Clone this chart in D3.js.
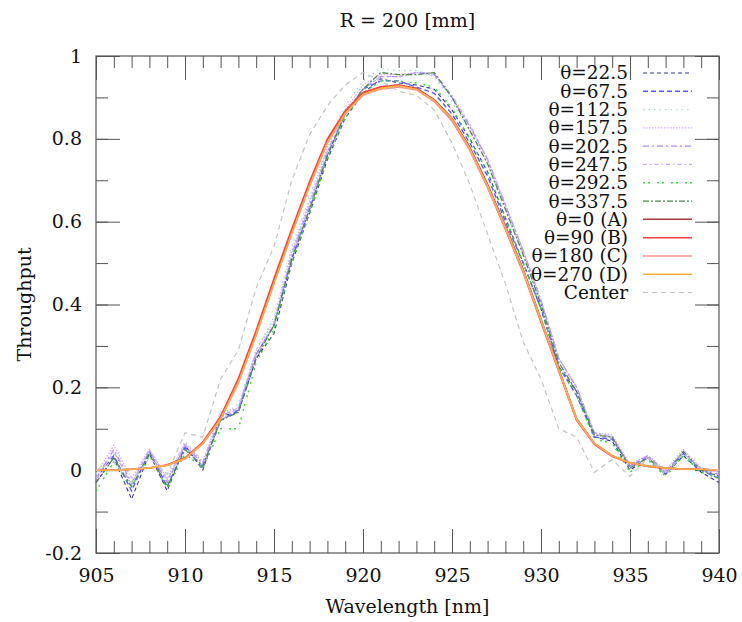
<!DOCTYPE html>
<html>
<head>
<meta charset="utf-8">
<script src="https://cdn.jsdelivr.net/npm/d3@7"></script>
<style>
  body { margin: 0; background: #fff; }
  text { font-family: "DejaVu Serif", serif; fill: #111; }
</style>
</head>
<body>
<svg width="742" height="622"></svg>
<script>
// wavelengths in nm
const wavelengths = [905, 906, 907, 908, 909, 910, 911, 912, 913, 914, 915, 916,
  917, 918, 919, 920, 921, 922, 923, 924, 925, 926, 927, 928,
  929, 930, 931, 932, 933, 934, 935, 936, 937, 938, 939, 940];

// throughput per position
const t22 = [-0.03, 0.03, -0.07, 0.04, -0.05, 0.06, 0.0, 0.13, 0.14, 0.27, 0.33, 0.50, 0.62, 0.75, 0.85, 0.91, 0.945, 0.935, 0.93, 0.92, 0.87, 0.80, 0.72, 0.61, 0.50, 0.39, 0.25, 0.19, 0.08, 0.07, 0.0, 0.03, -0.01, 0.035, -0.005, -0.03];
const t67 = [-0.02, 0.035, -0.05, 0.045, -0.04, 0.055, 0.005, 0.12, 0.145, 0.28, 0.35, 0.51, 0.63, 0.76, 0.86, 0.92, 0.94, 0.94, 0.925, 0.91, 0.86, 0.79, 0.71, 0.60, 0.50, 0.39, 0.25, 0.18, 0.08, 0.075, 0.01, 0.03, -0.01, 0.04, 0.0, -0.02];
const t112 = [-0.01, 0.04, -0.03, 0.05, -0.02, 0.07, 0.02, 0.13, 0.16, 0.29, 0.37, 0.54, 0.66, 0.79, 0.88, 0.94, 0.97, 0.965, 0.965, 0.95, 0.89, 0.82, 0.74, 0.63, 0.52, 0.40, 0.26, 0.19, 0.09, 0.08, 0.01, 0.035, -0.005, 0.045, 0.005, -0.01];
const t157 = [-0.01, 0.06, -0.02, 0.05, -0.02, 0.065, 0.02, 0.14, 0.15, 0.29, 0.36, 0.53, 0.65, 0.78, 0.87, 0.93, 0.955, 0.955, 0.96, 0.955, 0.90, 0.83, 0.75, 0.64, 0.53, 0.41, 0.27, 0.20, 0.09, 0.085, 0.015, 0.035, 0.0, 0.05, 0.005, -0.005];
const t202 = [-0.02, 0.05, -0.03, 0.045, -0.03, 0.06, 0.015, 0.13, 0.15, 0.28, 0.35, 0.52, 0.64, 0.77, 0.86, 0.92, 0.95, 0.95, 0.96, 0.955, 0.90, 0.83, 0.75, 0.64, 0.53, 0.41, 0.27, 0.20, 0.09, 0.08, 0.01, 0.035, -0.005, 0.045, 0.0, -0.01];
const t247 = [-0.02, 0.045, -0.035, 0.05, -0.025, 0.06, 0.01, 0.12, 0.15, 0.28, 0.35, 0.52, 0.64, 0.77, 0.86, 0.92, 0.95, 0.95, 0.96, 0.96, 0.905, 0.835, 0.75, 0.64, 0.53, 0.41, 0.27, 0.20, 0.085, 0.08, 0.005, 0.03, -0.005, 0.04, 0.0, -0.015];
const t292 = [-0.05, 0.02, -0.04, 0.035, -0.045, 0.04, 0.005, 0.10, 0.10, 0.26, 0.34, 0.50, 0.62, 0.75, 0.85, 0.91, 0.94, 0.94, 0.935, 0.925, 0.875, 0.80, 0.72, 0.61, 0.50, 0.39, 0.25, 0.18, 0.075, 0.065, -0.005, 0.025, -0.015, 0.035, -0.005, -0.02];
const t337 = [-0.03, 0.03, -0.04, 0.04, -0.04, 0.05, 0.01, 0.12, 0.14, 0.27, 0.35, 0.51, 0.63, 0.76, 0.86, 0.92, 0.96, 0.955, 0.955, 0.96, 0.90, 0.82, 0.74, 0.63, 0.52, 0.40, 0.26, 0.19, 0.085, 0.08, 0.005, 0.03, -0.01, 0.045, 0.0, -0.015];
const tA = [0.0, 0.0, 0.002, 0.005, 0.012, 0.028, 0.065, 0.125, 0.215, 0.33, 0.455, 0.575, 0.69, 0.795, 0.865, 0.91, 0.925, 0.93, 0.922, 0.895, 0.85, 0.78, 0.69, 0.59, 0.485, 0.365, 0.245, 0.125, 0.065, 0.035, 0.018, 0.01, 0.005, 0.003, 0.002, 0.0];
const tB = [0.0, 0.0, 0.002, 0.005, 0.013, 0.03, 0.068, 0.13, 0.222, 0.338, 0.463, 0.583, 0.697, 0.8, 0.868, 0.912, 0.926, 0.93, 0.92, 0.892, 0.845, 0.774, 0.683, 0.582, 0.477, 0.357, 0.238, 0.12, 0.062, 0.033, 0.017, 0.009, 0.004, 0.003, 0.002, 0.0];
const tC = [0.0, 0.0, 0.002, 0.005, 0.012, 0.027, 0.063, 0.122, 0.21, 0.325, 0.45, 0.57, 0.685, 0.79, 0.86, 0.905, 0.92, 0.925, 0.918, 0.89, 0.843, 0.772, 0.682, 0.582, 0.478, 0.36, 0.24, 0.122, 0.064, 0.034, 0.018, 0.01, 0.005, 0.003, 0.002, 0.0];
const tD = [0.0, 0.0, 0.002, 0.005, 0.012, 0.028, 0.065, 0.124, 0.213, 0.328, 0.452, 0.572, 0.688, 0.792, 0.862, 0.908, 0.922, 0.928, 0.92, 0.893, 0.848, 0.777, 0.687, 0.587, 0.482, 0.363, 0.243, 0.124, 0.065, 0.035, 0.018, 0.01, 0.005, 0.003, 0.002, 0.0];
const tCenter = [0.0, 0.02, -0.03, 0.03, -0.01, 0.09, 0.08, 0.22, 0.29, 0.44, 0.54, 0.70, 0.81, 0.88, 0.93, 0.96, 0.94, 0.915, 0.905, 0.87, 0.79, 0.69, 0.57, 0.45, 0.31, 0.22, 0.10, 0.08, -0.005, 0.025, -0.015, 0.03, -0.01, 0.04, 0.005, 0.0];

const seriesNames = ["θ=22.5", "θ=67.5", "θ=112.5", "θ=157.5", "θ=202.5", "θ=247.5",
  "θ=292.5", "θ=337.5", "θ=0 (A)", "θ=90 (B)", "θ=180 (C)", "θ=270 (D)", "Center"];
const seriesValues = [t22, t67, t112, t157, t202, t247, t292, t337, tA, tB, tC, tD, tCenter];

const xTicks = [905, 910, 915, 920, 925, 930, 935, 940];
const yTicks = [-0.2, 0, 0.2, 0.4, 0.6, 0.8, 1];

// line styles, same order as the series
const colors = ["#3434a8", "#5a5aff", "#a8dcdc", "#d8a8ff", "#b088ff", "#c8a8ff",
  "#33dd33", "#4e8a4e", "#a83c3c", "#ff4040", "#ff9090", "#ffb040", "#c4c4c4"];
const dashes = ["4,3", "5,3", "1.5,4", "1.5,1.5", "6,3,2,3", "4,3,1.5,3",
  "2,3,2,7", "6,2,2,2", null, null, null, null, "5,4"];
const widths = [1.1, 1.4, 1.3, 1.3, 1.3, 1.3, 1.4, 1.3, 1.5, 1.5, 1.5, 1.5, 1.2];

const svg = d3.select("svg");
const mLeft = 96, mRight = 719, mTop = 56, mBottom = 553;

const x = d3.scaleLinear().domain([905, 940]).range([mLeft, mRight]);
const y = d3.scaleLinear().domain([-0.2, 1]).range([mBottom, mTop]);

// minor + major ticks on all four sides, pointing inwards
const minorX = x.ticks(35);
const minorY = y.ticks(12);

function drawTicks(axis, transform) {
  svg.append("g").attr("transform", transform).call(axis)
    .call(g => g.select(".domain").remove())
    .call(g => g.selectAll("line").attr("stroke", "#555"));
}

drawTicks(d3.axisBottom(x).tickValues(minorX).tickSize(-12).tickFormat(""), `translate(0,${mBottom})`);
drawTicks(d3.axisTop(x).tickValues(minorX).tickSize(-12).tickFormat(""), `translate(0,${mTop})`);
drawTicks(d3.axisLeft(y).tickValues(minorY).tickSize(-12).tickFormat(""), `translate(${mLeft},0)`);
drawTicks(d3.axisRight(y).tickValues(minorY).tickSize(-12).tickFormat(""), `translate(${mRight},0)`);
drawTicks(d3.axisTop(x).tickValues(xTicks).tickSize(-24).tickFormat(""), `translate(0,${mTop})`);
drawTicks(d3.axisRight(y).tickValues(yTicks).tickSize(-24).tickFormat(""), `translate(${mRight},0)`);

const xAxis = svg.append("g").attr("transform", `translate(0,${mBottom})`)
  .call(d3.axisBottom(x).tickValues(xTicks).tickSize(-24).tickPadding(16).tickFormat(d3.format("d")));
const yAxis = svg.append("g").attr("transform", `translate(${mLeft},0)`)
  .call(d3.axisLeft(y).tickValues(yTicks).tickSize(-24).tickPadding(14).tickFormat(d => String(+d.toFixed(1))));
[xAxis, yAxis].forEach(g => {
  g.select(".domain").remove();
  g.selectAll("line").attr("stroke", "#555");
  g.selectAll("text").attr("font-family", "DejaVu Serif").attr("font-size", 19).attr("fill", "#111");
});

svg.append("rect")
  .attr("x", mLeft).attr("y", mTop)
  .attr("width", mRight - mLeft).attr("height", mBottom - mTop)
  .attr("fill", "none").attr("stroke", "#555").attr("stroke-width", 1.2);

// curves
const line = d3.line()
  .x((d, i) => x(wavelengths[i]))
  .y(d => y(d));

seriesValues.forEach((vals, k) => {
  svg.append("path")
    .datum(vals)
    .attr("d", line)
    .attr("fill", "none")
    .attr("stroke", colors[k])
    .attr("stroke-width", widths[k])
    .attr("stroke-dasharray", dashes[k]);
});

// legend
const legY = d3.scalePoint().domain(seriesNames).range([73, 292.5]);
const leg = svg.append("g");
seriesNames.forEach((name, k) => {
  leg.append("text")
    .attr("x", 628).attr("y", legY(name))
    .attr("dy", "0.35em")
    .attr("text-anchor", "end")
    .attr("font-size", 18.5)
    .text(name);
  leg.append("line")
    .attr("x1", 643).attr("x2", 692)
    .attr("y1", legY(name)).attr("y2", legY(name))
    .attr("stroke", colors[k])
    .attr("stroke-width", widths[k])
    .attr("stroke-dasharray", dashes[k]);
});

// titles
svg.append("text")
  .attr("x", (mLeft + mRight) / 2).attr("y", 27)
  .attr("text-anchor", "middle").attr("font-size", 19)
  .text("R = 200 [mm]");

svg.append("text")
  .attr("x", (mLeft + mRight) / 2).attr("y", 613)
  .attr("text-anchor", "middle").attr("font-size", 19)
  .text("Wavelength [nm]");

svg.append("text")
  .attr("transform", `translate(31,${(mTop + mBottom) / 2}) rotate(-90)`)
  .attr("text-anchor", "middle").attr("font-size", 19)
  .text("Throughput");
</script>
</body>
</html>
